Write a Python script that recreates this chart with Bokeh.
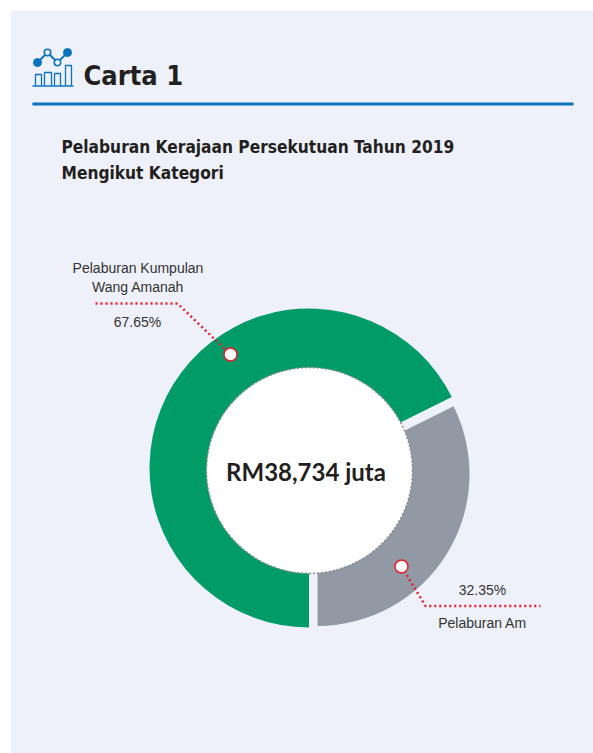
from bokeh.plotting import figure
from bokeh.embed import file_html
from bokeh.resources import INLINE
from bokeh.core.properties import value
import math

categories = ["Pelaburan Kumpulan Wang Amanah", "Pelaburan Am"]
shares = [67.65, 32.35]
colors = ["#009B67", "#9099A4"]
total_label = "RM38,734 juta"
title = "Carta 1"
subtitle = ["Pelaburan Kerajaan Persekutuan Tahun 2019", "Mengikut Kategori"]

W, H = 593, 753
def X(px): return px
def Y(py): return H - py

p = figure(width=W, height=H, x_range=(0, W), y_range=(0, H), output_backend="svg",
           toolbar_location=None, min_border=0, outline_line_color=None,
           background_fill_color="#FFFFFF", border_fill_color="#FFFFFF")
p.axis.visible = False
p.grid.visible = False

BLUE = "#0B72BD"
PANEL = "#EEF1F9"
p.quad(left=[X(10)], right=[X(593)], top=[Y(10)], bottom=[Y(753)], fill_color=PANEL, line_color=None)
p.line([X(32), X(573)], [Y(103.5), Y(103.5)], line_color=BLUE, line_width=3)

p.line([X(32), X(73)], [Y(85.5), Y(85.5)], line_color=BLUE, line_width=1.5)
for l, r, t in [(35, 41, 74), (44, 51, 72), (54, 60, 73), (65, 71, 65)]:
    p.line([X(l), X(l), X(r), X(r)], [Y(85), Y(t), Y(t), Y(85)], line_color=BLUE, line_width=1.3)
p.line([X(37), X(47), X(57), X(67)], [Y(62), Y(52), Y(62), Y(52)], line_color=BLUE, line_width=1.8)
p.scatter([X(37), X(67)], [Y(62), Y(52)], size=8, marker="circle", fill_color=BLUE, line_color=BLUE)
p.scatter([X(47), X(57)], [Y(52), Y(62)], size=6.5, marker="circle", fill_color=PANEL, line_color=BLUE, line_width=1.6)

NARROW = value("DejaVu Sans Condensed")
LABEL = value("Liberation Sans")
def txt(x, y, s, size, color="#231F20", style="normal", font=NARROW, align="left"):
    p.text([X(x)], [Y(y)], text=[s], text_font=font, text_font_size=f"{size}px",
           text_font_style=style, text_color=color, text_align=align, text_baseline="middle")

txt(83, 75, title, 27, style="bold")
txt(61, 146, subtitle[0], 17.2, style="bold")
txt(61, 172, subtitle[1], 17.2, style="bold")

split = 270 - shares[0] * 3.6
rad = math.pi / 180
p.wedge([X(308.5)], [Y(467.5)], radius=159.5, start_angle=[split * rad], end_angle=[270 * rad],
        fill_color=colors[0], line_color=None)
p.wedge([X(317)], [Y(473.5)], radius=152, start_angle=[-90 * rad], end_angle=[split * rad],
        fill_color=colors[1], line_color=None)
p.circle([X(309)], [Y(470)], radius=103, fill_color="#FFFFFF", line_color="#8A8A8A", line_width=1.5, line_dash="2 2")

txt(305.5, 471, total_label, 24, style="bold", font=value("Lato"), align="center")

RED = "#ED1C2E"
p.line([X(95), X(177), X(230)], [Y(303), Y(303), Y(354)], line_color=RED, line_width=2.5, line_dash="2 3")
p.line([X(401), X(425), X(540)], [Y(566), Y(605.5), Y(605.5)], line_color=RED, line_width=2.5, line_dash="2 3")
p.scatter([X(230), X(401)], [Y(354), Y(566)], size=13, marker="circle", fill_color="#FFFFFF", line_color=RED, line_width=1.5)

GREY = "#333333"
txt(137.5, 267, "Pelaburan Kumpulan", 14, color=GREY, align="center", font=LABEL)
txt(137.5, 286, "Wang Amanah", 14, color=GREY, align="center", font=LABEL)
txt(137, 321, f"{shares[0]}%", 14, color=GREY, align="center", font=LABEL)
txt(482, 589, f"{shares[1]}%", 14, color=GREY, align="center", font=LABEL)
txt(482, 622, categories[1], 14, color=GREY, align="center", font=LABEL)

open("out.html", "w").write(file_html(p, INLINE))
